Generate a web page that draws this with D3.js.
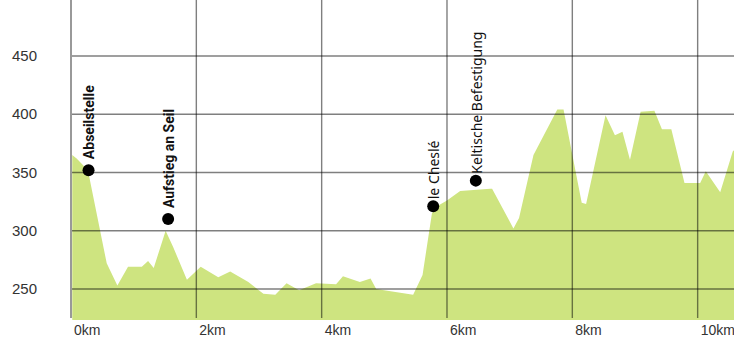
<!DOCTYPE html>
<html lang="en">
<head>
    <meta charset="UTF-8">
    <title>Höhenprofil</title>
    <script src="https://d3js.org/d3.v7.min.js"></script>
    <style>
        body { margin: 0; background: #fff; }
        .tick-label { font-family: "Liberation Sans", Arial, sans-serif; fill: #333; }
        .marker-label { font-size: 14px; fill: #111; }
    </style>
</head>
<body>
    <div id="profile"></div>
    <script>
        // distance along the route (km) and elevation (m)
        var distances = [0.02, 0.09, 0.27, 0.57, 0.74, 0.91, 1.13, 1.23, 1.32, 1.51, 1.63, 1.85,
            2.07, 2.35, 2.54, 2.83, 3.07, 3.26, 3.44, 3.64, 3.91, 4.23, 4.34, 4.61, 4.78, 4.87,
            5.46, 5.61, 5.76, 5.84, 6.00, 6.21, 6.69, 6.72, 7.06, 7.15, 7.38, 7.76, 7.86, 7.99,
            8.15, 8.22, 8.53, 8.68, 8.80, 8.92, 9.09, 9.31, 9.43, 9.58, 9.79, 10.04, 10.13,
            10.36, 10.56, 10.58];
        var elevations = [365, 362, 352, 272, 253, 269, 269, 274, 268, 300, 286, 258,
            269, 260, 265, 256, 246, 245, 255, 249, 255, 254, 261, 256, 259, 250,
            245, 262, 315, 321, 326, 334, 336, 336, 302, 311, 365, 404, 404, 368,
            324, 323, 399, 382, 385, 361, 402, 403, 387, 387, 341, 341, 351,
            333, 368, 369];

        // points of interest
        var poiNames = ["Abseilstelle", "Aufstieg an Seil", "le Cheslé", "Keltische Befestigung"];
        var poiKm = [0.28, 1.55, 5.78, 6.46];
        var poiElev = [352, 310, 321, 343];
        var poiBold = [true, true, false, false];

        var yTicks = [250, 300, 350, 400, 450];
        var xTicks = [0, 2, 4, 6, 8, 10];

        var width = 734, height = 345;
        var plotBottom = 320;

        var x = d3.scaleLinear().domain([0, 10.58]).range([71, 734]);
        var y = d3.scaleLinear().domain([223.4, 498]).range([plotBottom, 0]);

        var svg = d3.select("#profile").append("svg")
            .attr("width", width)
            .attr("height", height);

        var profile = distances.map(function (d, i) {
            return { km: d, elev: elevations[i] };
        });

        var area = d3.area()
            .x(function (d) { return x(d.km); })
            .y0(plotBottom)
            .y1(function (d) { return y(d.elev); });

        svg.append("path")
            .attr("d", area(profile))
            .attr("fill", "#cee480");

        // grid lines on top of the area
        var grid = svg.append("g")
            .attr("stroke", "#000")
            .attr("stroke-opacity", 0.5)
            .attr("stroke-width", 1.4);

        grid.selectAll(".hgrid")
            .data(yTicks)
            .enter().append("line")
            .attr("x1", 71)
            .attr("x2", width)
            .attr("y1", function (d) { return y(d); })
            .attr("y2", function (d) { return y(d); });

        grid.selectAll(".vgrid")
            .data(xTicks.slice(1))
            .enter().append("line")
            .attr("x1", function (d) { return x(d); })
            .attr("x2", function (d) { return x(d); })
            .attr("y1", 0)
            .attr("y2", 318);

        // left axis line
        svg.append("line")
            .attr("x1", x(0)).attr("x2", x(0))
            .attr("y1", 0).attr("y2", 318)
            .attr("stroke", "#999")
            .attr("stroke-width", 2);

        svg.selectAll(".ylab")
            .data(yTicks)
            .enter().append("text")
            .attr("class", "tick-label")
            .attr("x", 37)
            .attr("y", function (d) { return y(d); })
            .attr("dy", "0.35em")
            .attr("text-anchor", "end")
            .style("font-size", "15px")
            .text(function (d) { return d; });

        svg.selectAll(".xlab")
            .data(xTicks)
            .enter().append("text")
            .attr("class", "tick-label")
            .attr("x", function (d) { return x(d) + 3; })
            .attr("y", 335)
            .style("font-size", "14px")
            .text(function (d) { return d + "km"; });

        // markers
        var pois = svg.selectAll(".poi")
            .data(poiNames)
            .enter().append("g")
            .attr("transform", function (d, i) {
                return "translate(" + x(poiKm[i]) + "," + y(poiElev[i]) + ")";
            });

        pois.append("circle")
            .attr("r", 6)
            .attr("fill", "#000");

        pois.append("text")
            .attr("class", "marker-label")
            .attr("transform", "rotate(-90)")
            .attr("x", function (d, i) { return poiBold[i] ? 11 : 7; })
            .attr("y", 1)
            .attr("dy", "0.35em")
            .style("font-family", function (d, i) { return poiBold[i] ? "Roboto, sans-serif" : "'Noto Sans', sans-serif"; })
            .style("font-weight", function (d, i) { return poiBold[i] ? "bold" : "normal"; })
            .text(function (d) { return d; });
    </script>
</body>
</html>
